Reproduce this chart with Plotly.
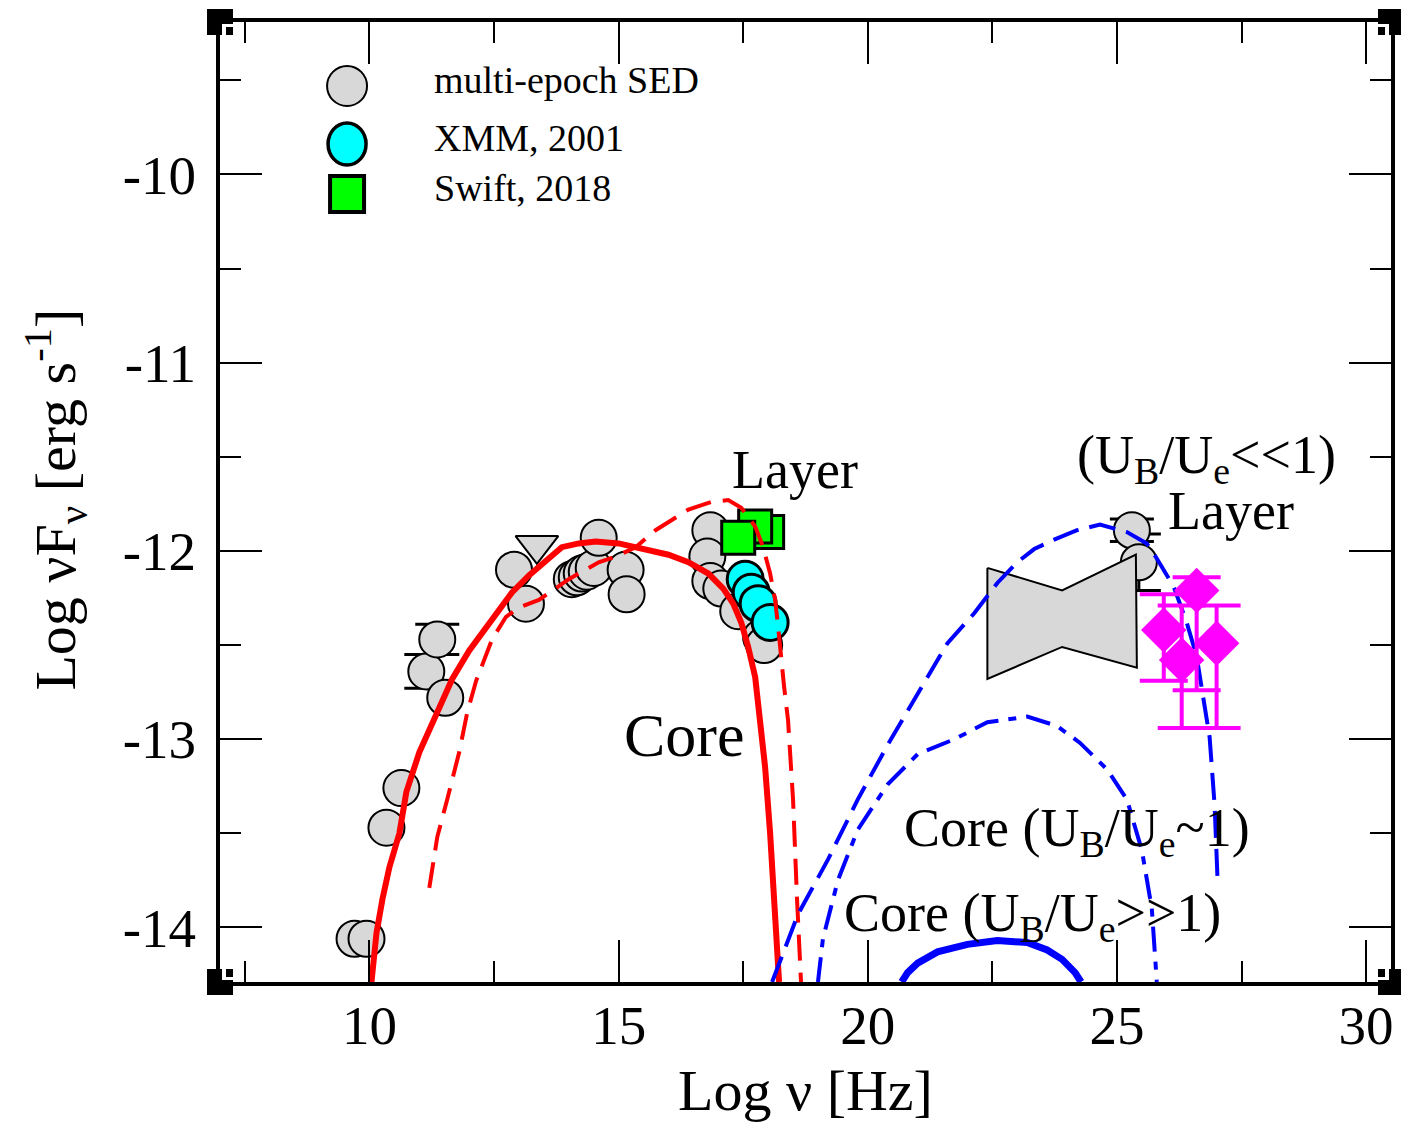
import plotly.graph_objects as go

# ---------------- data ----------------
# multi-epoch SED (grey circles)
sed_x = [9.7, 9.94, 10.34, 10.64, 11.14, 11.36, 11.52, 12.9, 13.14,
         14.06, 14.16, 14.26, 14.36, 14.5, 14.6, 15.14, 15.16,
         16.84, 16.78, 16.84, 17.06, 17.4, 17.86, 17.92,
         25.3, 25.44]
sed_y = [-14.06, -14.06, -13.47, -13.26, -12.64, -12.47, -12.78, -12.1, -12.28,
         -12.15, -12.14, -12.12, -12.11, -12.09, -11.93, -12.1, -12.23,
         -11.89, -12.03, -12.16, -12.2, -12.32, -12.46, -12.5,
         -11.89, -12.06]
sed_err = [None, None, None, None, 0.09, 0.08, None, None, None,
           None, None, None, None, None, None, None, None,
           None, None, None, None, None, None, None,
           0.06, 0.15]

# upper limit (grey down-triangle)
ul_x = [13.36]
ul_y = [-11.97]

# XMM 2001 (cyan circles)
xmm_x = [17.54, 17.66, 17.8, 18.04]
xmm_y = [-12.15, -12.22, -12.28, -12.38]

# Swift 2018 (green squares)
swift_x = [17.98, 17.74, 17.4]
swift_y = [-11.9, -11.87, -11.93]

# Fermi butterfly
bow_x = [22.4, 23.9, 25.38, 25.4, 23.9, 22.4, 22.4]
bow_y = [-12.09, -12.21, -12.02, -12.62, -12.51, -12.68, -12.09]

# gamma-ray points (magenta diamonds)
gam_x = [26.6, 25.94, 27.0, 26.3]
gam_y = [-12.21, -12.42, -12.49, -12.58]
gam_ep = [0.07, 0.19, 0.2, 0.29]
gam_em = [0.53, 0.27, 0.45, 0.36]

# model curves
core_syn_x = [10.04, 10.14, 10.26, 10.4, 10.6, 10.74, 11.0, 11.34, 11.66, 12.0, 12.4,
              12.86, 13.2, 13.54, 13.86, 14.2, 14.54, 15.0, 15.54, 16.0, 16.4, 16.8,
              17.1, 17.3, 17.46, 17.6, 17.74, 17.84, 17.94, 18.04, 18.14, 18.22]
core_syn_y = [-14.29, -14.03, -13.85, -13.68, -13.5, -13.28, -13.07, -12.86, -12.68, -12.53, -12.38,
              -12.22, -12.13, -12.05, -11.98, -11.96, -11.95, -11.96, -11.99, -12.02, -12.06, -12.12,
              -12.2, -12.28, -12.38, -12.51, -12.67, -12.88, -13.15, -13.5, -13.9, -14.29]

layer_syn_x = [11.2, 11.36, 11.56, 11.8, 11.96, 12.14, 12.3, 12.46, 12.74, 13.0, 13.4, 13.66,
               14.0, 14.6, 14.94, 15.34, 15.74, 16.4, 16.86, 17.2, 17.46, 17.74, 17.9, 18.04,
               18.14, 18.2, 18.26, 18.32, 18.4, 18.5, 18.58, 18.66]
layer_syn_y = [-13.79, -13.52, -13.32, -13.07, -12.86, -12.69, -12.58, -12.47, -12.35, -12.3, -12.26, -12.21,
               -12.15, -12.06, -12.03, -11.98, -11.89, -11.78, -11.74, -11.73, -11.77, -11.87, -11.98, -12.12,
               -12.26, -12.4, -12.59, -12.72, -12.9, -13.32, -13.85, -14.29]

layer_ic_x = [18.08, 18.6, 19.2, 19.8, 20.4, 21.0, 21.6, 22.14, 22.6, 23.0, 23.34, 23.74, 24.2,
              24.66, 25.2, 25.6, 25.8, 26.14, 26.4, 26.6, 26.74, 26.86, 26.96, 27.02]
layer_ic_y = [-14.29, -13.93, -13.64, -13.32, -13.03, -12.76, -12.49, -12.33, -12.17, -12.06, -11.99, -11.94, -11.89,
              -11.86, -11.9, -11.96, -12.04, -12.19, -12.38, -12.56, -12.79, -12.99, -13.35, -13.75]

core_ic1_x = [19.0, 19.1, 19.4, 19.8, 20.4, 21.0, 21.74, 22.4, 23.2, 23.8, 24.26, 24.8, 25.2, 25.5, 25.7, 25.8]
core_ic1_y = [-14.29, -14.06, -13.75, -13.48, -13.24, -13.08, -13.0, -12.91, -12.88, -12.93, -13.02, -13.16,
              -13.32, -13.59, -13.9, -14.29]

core_ic2_x = [20.68, 20.8, 21.0, 21.4, 22.0, 22.6, 23.2, 23.6, 23.9, 24.16, 24.28]
core_ic2_y = [-14.29, -14.24, -14.19, -14.13, -14.09, -14.07, -14.08, -14.12, -14.17, -14.24, -14.29]

x_tick_vals = [10, 15, 20, 25, 30]
x_tick_text = ["10", "15", "20", "25", "30"]
x_minor_vals = [7.5, 12.5, 17.5, 22.5, 27.5]
y_tick_vals = [-14, -13, -12, -11, -10]
y_tick_text = ["-14", "-13", "-12", "-11", "-10"]
y_minor_vals = [-13.5, -12.5, -11.5, -10.5, -9.5]

legend_labels = ["multi-epoch SED", "XMM, 2001", "Swift, 2018"]

# ---------------- layout geometry ----------------
W, H = 1401, 1122
L, R, T, B = 220, 1395, 22, 982
XR = [7, 30.5]
YR = [-14.29, -9.19]
FONT = "Liberation Serif, Times New Roman, serif"
GREY = "#d8d8d8"


def px(xp):
    return (xp - L) / (R - L)


def py(yp):
    return (B - yp) / (B - T)


fig = go.Figure()

# error bars of the grey points that have them (drawn beneath the markers)
eb = [(x, y, e) for x, y, e in zip(sed_x, sed_y, sed_err) if e is not None]
fig.add_trace(go.Scatter(
    x=[p[0] for p in eb], y=[p[1] for p in eb], mode="markers",
    marker=dict(size=1, opacity=0),
    error_y=dict(type="data", array=[p[2] for p in eb], color="black", thickness=3, width=22),
    showlegend=False, hoverinfo="skip"))
fig.add_trace(go.Scatter(
    x=sed_x, y=sed_y, mode="markers",
    marker=dict(symbol="circle", size=36, color=GREY, line=dict(color="black", width=2)),
    showlegend=False))
fig.add_trace(go.Scatter(
    x=ul_x, y=ul_y, mode="markers",
    marker=dict(symbol="triangle-down", size=37, color=GREY, line=dict(color="black", width=2)),
    showlegend=False))
fig.add_trace(go.Scatter(
    x=bow_x, y=bow_y, mode="lines", fill="toself", fillcolor=GREY,
    line=dict(color="black", width=2), showlegend=False))
fig.add_trace(go.Scatter(
    x=xmm_x, y=xmm_y, mode="markers",
    marker=dict(symbol="circle", size=36, color="#00ffff", line=dict(color="black", width=3)),
    showlegend=False))
fig.add_trace(go.Scatter(
    x=swift_x, y=swift_y, mode="markers",
    marker=dict(symbol="square", size=33, color="#00ff00", line=dict(color="black", width=3)),
    showlegend=False))

fig.add_trace(go.Scatter(x=core_syn_x, y=core_syn_y, mode="lines",
                         line=dict(color="#ff0000", width=6), showlegend=False))
fig.add_trace(go.Scatter(x=layer_syn_x, y=layer_syn_y, mode="lines",
                         line=dict(color="#ff0000", width=4, dash="26px,12px"), showlegend=False))
fig.add_trace(go.Scatter(x=layer_ic_x, y=layer_ic_y, mode="lines",
                         line=dict(color="#0000ff", width=4, dash="27px,11px"), showlegend=False))
fig.add_trace(go.Scatter(x=core_ic1_x, y=core_ic1_y, mode="lines",
                         line=dict(color="#0000ff", width=4, dash="25px,10px,8px,10px"), showlegend=False))
fig.add_trace(go.Scatter(x=core_ic2_x, y=core_ic2_y, mode="lines",
                         line=dict(color="#0000ff", width=7), showlegend=False))

fig.add_trace(go.Scatter(
    x=gam_x, y=gam_y, mode="markers",
    marker=dict(symbol="diamond", size=35, color="#ff00ff", line=dict(width=0)),
    error_y=dict(type="data", symmetric=False, array=gam_ep, arrayminus=gam_em,
                 color="#ff00ff", thickness=4, width=24),
    showlegend=False))

# ---------------- annotations ----------------
ann = []


def txt(x, y, s, size, xanchor="center", ref="data"):
    ann.append(dict(x=x, y=y, text=s, showarrow=False, xanchor=xanchor, yanchor="middle",
                    xref="x" if ref == "data" else "paper", yref="y" if ref == "data" else "paper",
                    font=dict(family=FONT, size=size, color="black")))


txt(18.54, -11.57, "Layer", 54)
txt(16.32, -12.98, "Core", 62)
txt(26.8, -11.51, "(U<sub>B</sub>/U<sub>e</sub>&lt;&lt;1)", 54)
txt(27.28, -11.79, "Layer", 54)
txt(24.2, -13.49, "Core (U<sub>B</sub>/U<sub>e</sub>~1)", 54)
txt(23.3, -13.94, "Core (U<sub>B</sub>/U<sub>e</sub>&gt;&gt;1)", 54)

# axis titles
txt(px(808), py(1090), "Log ν [Hz]", 58, ref="paper")
ann.append(dict(x=px(55), y=py(500), text="Log νF<sub>ν</sub> [erg s<sup>-1</sup>]",
                showarrow=False, textangle=-90, xref="paper", yref="paper",
                xanchor="center", yanchor="middle",
                font=dict(family=FONT, size=58, color="black")))

# legend
leg_y = [84, 142, 192]
for lab, yy in zip(legend_labels, leg_y):
    txt(px(433), py(yy - 4), lab, 38, xanchor="left", ref="paper")

shapes = []
leg_fill = [GREY, "#00ffff", "#00ff00"]
leg_type = ["circle", "circle", "rect"]
leg_lw = [2, 3.5, 4]
leg_half = [(20, 20), (19, 21), (17, 18)]
for yy, fc, tp, lw, (hx, hy) in zip(leg_y, leg_fill, leg_type, leg_lw, leg_half):
    shapes.append(dict(type=tp, xref="paper", yref="paper", xsizemode="pixel", ysizemode="pixel",
                       xanchor=px(347.5), yanchor=py(yy + 2), x0=-hx, x1=hx, y0=-hy, y1=hy,
                       fillcolor=fc, line=dict(color="black", width=lw), layer="above"))

# corner decorations
for cx, cy in [(0, 0), (1, 0), (0, 1), (1, 1)]:
    sx = 1 if cx == 0 else -1
    sy = 1 if cy == 0 else -1
    shapes.append(dict(type="rect", xref="paper", yref="paper", xsizemode="pixel", ysizemode="pixel",
                       xanchor=cx, yanchor=cy, x0=-13, x1=13, y0=-13, y1=13,
                       fillcolor="black", line=dict(width=0), layer="above"))
    shapes.append(dict(type="rect", xref="paper", yref="paper", xsizemode="pixel", ysizemode="pixel",
                       xanchor=cx, yanchor=cy, x0=sx * 2, x1=sx * 13, y0=sy * 2, y1=sy * 13,
                       fillcolor="white", line=dict(width=0), layer="above"))
    shapes.append(dict(type="rect", xref="paper", yref="paper", xsizemode="pixel", ysizemode="pixel",
                       xanchor=cx, yanchor=cy, x0=sx * 6, x1=sx * 13, y0=sy * 5, y1=sy * 13,
                       fillcolor="black", line=dict(width=0), layer="above"))

axis_common = dict(showline=True, linewidth=4, linecolor="black", mirror="ticks",
                   ticks="inside", ticklen=42, tickwidth=2, tickcolor="black",
                   showgrid=False, zeroline=False,
                   tickfont=dict(family=FONT, size=55, color="black"))

fig.update_layout(
    width=W, height=H,
    margin=dict(l=L, r=W - R, t=T, b=H - B, pad=0),
    paper_bgcolor="white", plot_bgcolor="white",
    xaxis=dict(range=XR, tickmode="array", tickvals=x_tick_vals, ticktext=x_tick_text,
               minor=dict(ticks="inside", ticklen=21, tickwidth=2, tickcolor="black",
                          tickmode="array", tickvals=x_minor_vals),
               ticklabelstandoff=-8, **axis_common),
    yaxis=dict(range=YR, tickmode="array", tickvals=y_tick_vals, ticktext=y_tick_text,
               minor=dict(ticks="inside", ticklen=21, tickwidth=2, tickcolor="black",
                          tickmode="array", tickvals=y_minor_vals),
               ticklabelstandoff=9, **axis_common),
    annotations=ann, shapes=shapes, showlegend=False,
)

fig.write_html("out.html")
